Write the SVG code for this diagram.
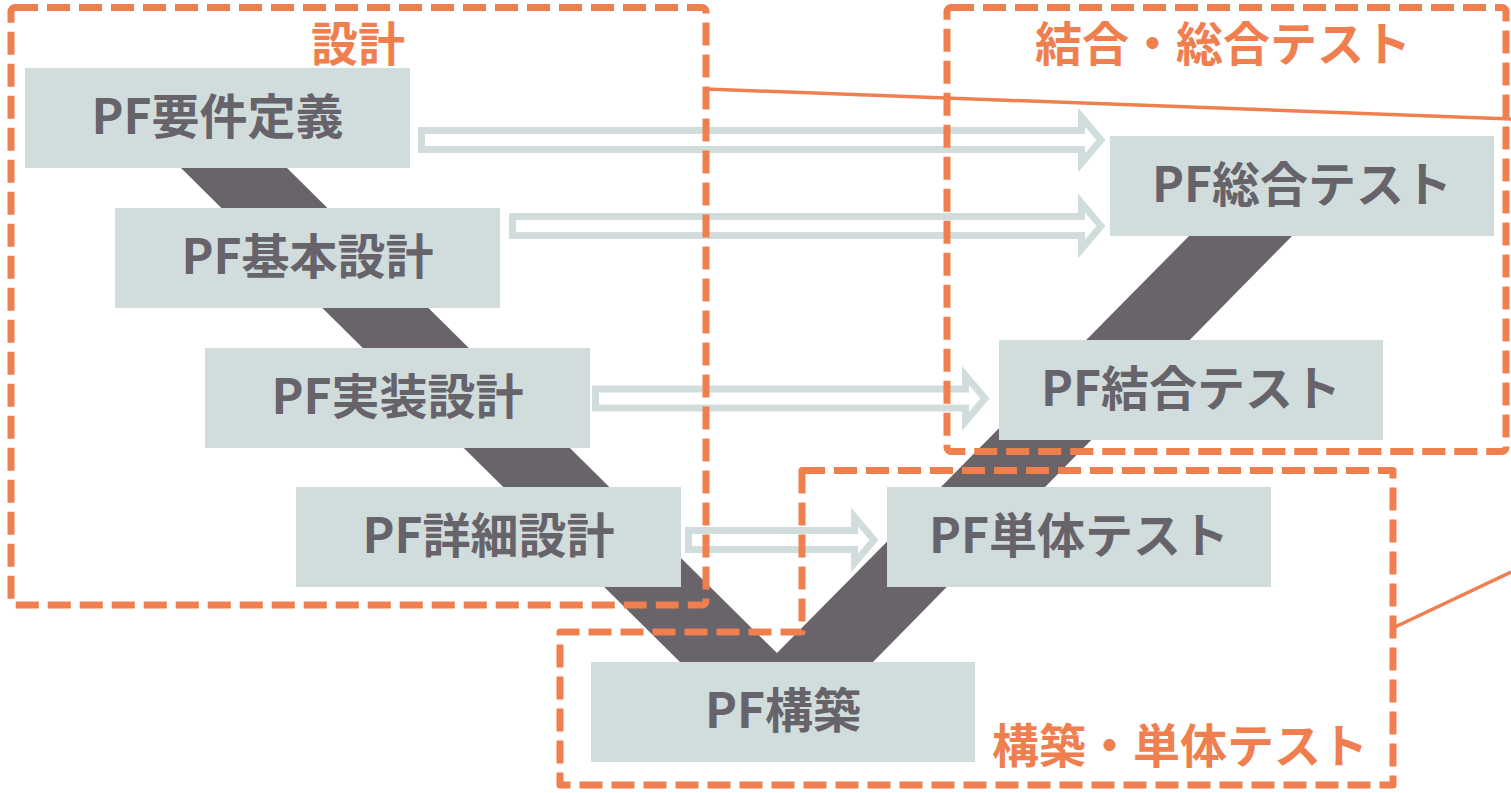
<svg xmlns="http://www.w3.org/2000/svg" width="1511" height="793" viewBox="0 0 1511 793">
<style>
.box{fill:#d1dddc}
.nt{font-family:"Noto Sans CJK JP","Noto Sans",sans-serif;font-weight:bold;font-size:48px;fill:#67636a;text-anchor:middle}
.lbl{font-family:"Noto Sans CJK JP","Noto Sans",sans-serif;font-weight:bold;font-size:47px;fill:#ef7f4f;text-anchor:middle}
.arr{fill:#fff;stroke:#d1dddc;stroke-width:7;stroke-linejoin:miter}
.dash{fill:none;stroke:#ef7f4f;stroke-width:7;stroke-dasharray:23 9;stroke-linejoin:round}
.sol{fill:none;stroke:#ef7f4f;stroke-width:3.5}
</style>
<rect width="1511" height="793" fill="#fff"/>
<g id="band">
<polygon points="181,168 287,168 777,653 1189,236 1292,236 873,662 680,662" fill="#68646a"/>
</g>
<g id="connectors">
<path class="arr" d="M421.5,130.5 H1081.5 V117 L1101,140 L1081.5,163 V149.5 H421.5 Z"/>
<path class="arr" d="M512.5,216.5 H1081.5 V203 L1101,226 L1081.5,249 V235.5 H512.5 Z"/>
<path class="arr" d="M595.5,389 H965.5 V375.5 L985,398.5 L965.5,421.5 V408 H595.5 Z"/>
<path class="arr" d="M688.5,530.5 H854.5 V517 L874,540 L854.5,563 V549.5 H688.5 Z"/>
</g>
<g id="n1"><rect class="box" x="25" y="68" width="385" height="100"/><text class="nt" x="217.5" y="134">PF要件定義</text></g>
<g id="n2"><rect class="box" x="115" y="208" width="385" height="100"/><text class="nt" x="307.5" y="274">PF基本設計</text></g>
<g id="n3"><rect class="box" x="205" y="348" width="385" height="100"/><text class="nt" x="397.5" y="414">PF実装設計</text></g>
<g id="n4"><rect class="box" x="296" y="487" width="385" height="100"/><text class="nt" x="488.5" y="553">PF詳細設計</text></g>
<g id="n5"><rect class="box" x="591" y="662" width="384" height="100"/><text class="nt" x="783" y="728">PF構築</text></g>
<g id="n6"><rect class="box" x="887" y="487" width="384" height="100"/><text class="nt" x="1079" y="553">PF単体テスト</text></g>
<g id="n7"><rect class="box" x="999" y="340" width="384" height="100"/><text class="nt" x="1191" y="406">PF結合テスト</text></g>
<g id="n8"><rect class="box" x="1110" y="136" width="384" height="100"/><text class="nt" x="1302" y="202">PF総合テスト</text></g>
<g id="groups">
<rect class="dash" x="11" y="7.5" width="695" height="597.5" rx="4"/>
<text class="lbl" x="358" y="61">設計</text>
<rect class="dash" x="947" y="7.5" width="559" height="444" rx="4"/>
<text class="lbl" x="1223" y="61">結合・総合テスト</text>
<path class="dash" d="M802,470.5 H1393 V785 H560 V632 H802 Z"/>
<text class="lbl" x="1180" y="763">構築・単体テスト</text>
<line class="sol" x1="706" y1="89" x2="1511" y2="119"/>
<line class="sol" x1="1395" y1="627" x2="1511" y2="572"/>
</g>
</svg>
